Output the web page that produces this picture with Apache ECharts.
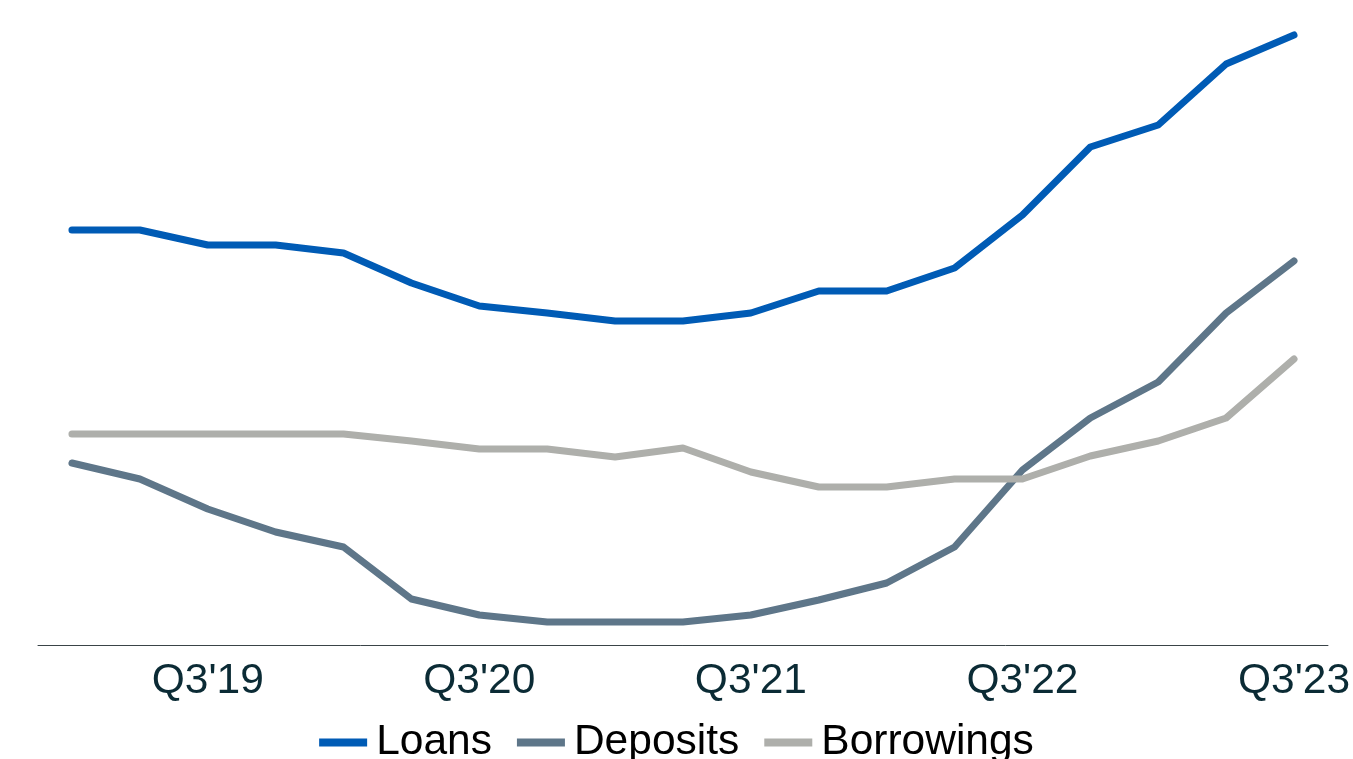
<!DOCTYPE html>
<html>
<head>
<meta charset="utf-8">
<script src="https://cdn.jsdelivr.net/npm/echarts@6/dist/echarts.min.js"></script>
<style>
html,body{margin:0;padding:0;background:#fff;}
#chart{width:1353px;height:759px;}
</style>
</head>
<body>
<div id="chart"></div>
<script>
const categories = ["Q1'19","Q2'19","Q3'19","Q4'19","Q1'20","Q2'20","Q3'20","Q4'20","Q1'21","Q2'21","Q3'21","Q4'21","Q1'22","Q2'22","Q3'22","Q4'22","Q1'23","Q2'23","Q3'23"];
const loans = [415,415,400,400,392,362,339,332,324,324,332,354,354,377,430,498,520,581,610];
const deposits = [182,166,136,113,98,46,30,23,23,23,30,45,62,98,175,227,263,332,384];
const borrowings = [211,211,211,211,211,204,196,196,188,197,173,158,158,166,166,189,204,227,286];

const colors = ['#005BB5', '#5E7689', '#AEAFAB'];
const chart = echarts.init(document.getElementById('chart'), null, {renderer: 'canvas'});
function mk(name, data, color) {
  return {
    name: name, type: 'line', data: data, showSymbol: false, symbol: 'none',
    lineStyle: {width: 7, color: color, cap: 'round', join: 'round'},
    itemStyle: {color: color},
    animation: false
  };
}
chart.setOption({
  animation: false,
  grid: {left: 38, right: 23, top: 15, bottom: 114, containLabel: false},
  xAxis: {
    type: 'category', data: categories, boundaryGap: true,
    axisLine: {show: true, lineStyle: {color: '#3a4448', width: 1}},
    axisTick: {show: false},
    axisLabel: {
      interval: function (i) { return i % 4 === 2; },
      color: '#0B2B35', fontFamily: 'Liberation Sans, Arial, sans-serif', fontSize: 42.5, margin: 15
    }
  },
  yAxis: {type: 'value', min: 0, max: 630, show: false, splitLine: {show: false}},
  legend: {
    bottom: -10, left: 'center', icon: 'rect', itemWidth: 48, itemHeight: 8, itemGap: 25,
    textStyle: {color: '#000', fontFamily: 'Liberation Sans, Arial, sans-serif', fontSize: 42.5, padding: [0,0,0,4]},
    data: ['Loans', 'Deposits', 'Borrowings']
  },
  series: [
    mk('Loans', loans, colors[0]),
    mk('Deposits', deposits, colors[1]),
    mk('Borrowings', borrowings, colors[2])
  ]
});
</script>
</body>
</html>
